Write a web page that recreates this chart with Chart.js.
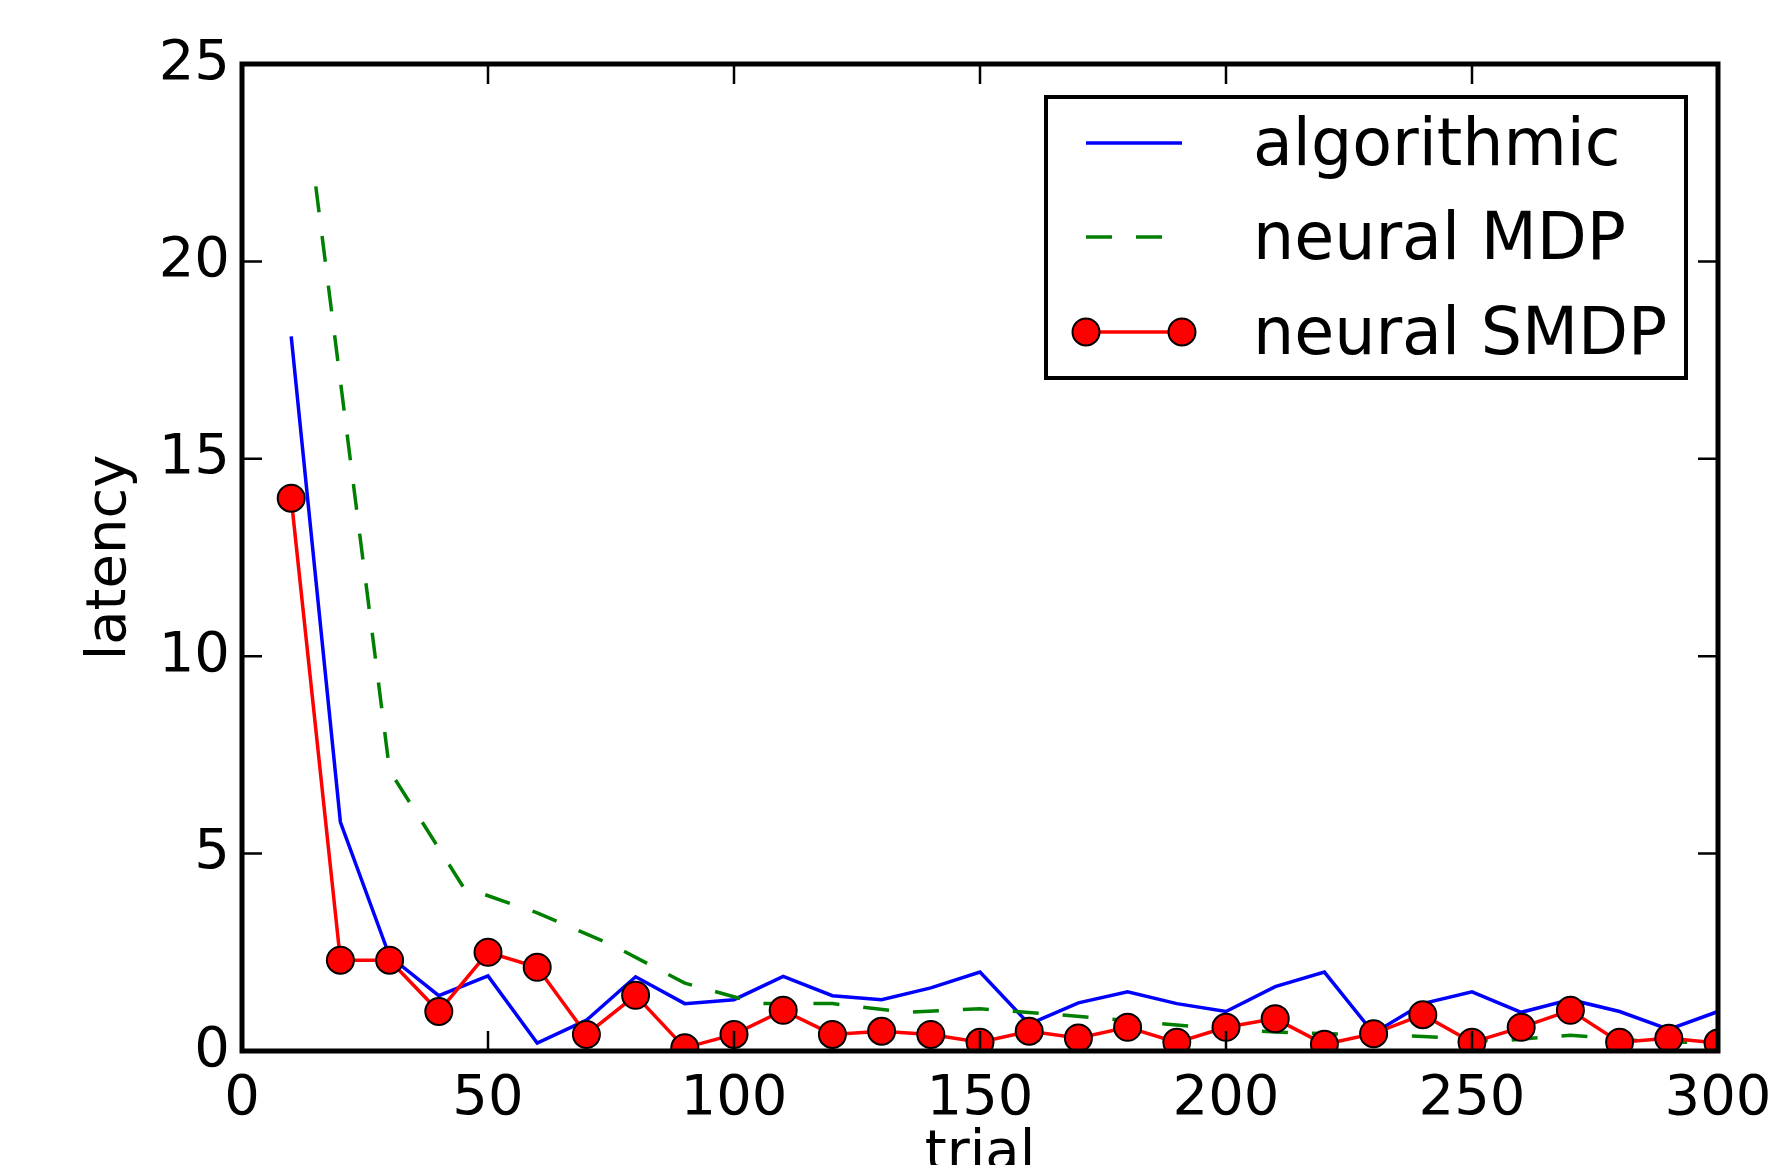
<!DOCTYPE html>
<html lang="en">
<head>
    <meta charset="UTF-8">
    <title>Latency per trial</title>
    <script src="https://cdn.jsdelivr.net/npm/chart.js"></script>
    <style>
        html, body { margin: 0; padding: 0; background: #fff; }
        #wrap { width: 1779px; height: 1165px; }
    </style>
</head>
<body>
    <div id="wrap">
        <canvas id="latencyChart" width="1779" height="1165"></canvas>
    </div>

    <script>
        // trials where algorithmic and neural SMDP were measured
        var trials = [10, 20, 30, 40, 50, 60, 70, 80, 90, 100,
                      110, 120, 130, 140, 150, 160, 170, 180, 190, 200,
                      210, 220, 230, 240, 250, 260, 270, 280, 290, 300];
        var latencyAlgorithmic = [18.1, 5.8, 2.4, 1.4, 1.9, 0.2, 0.78, 1.88, 1.2, 1.3,
                                  1.89, 1.4, 1.3, 1.6, 2.0, 0.68, 1.22, 1.5, 1.2, 1.0,
                                  1.63, 2.0, 0.45, 1.2, 1.5, 0.98, 1.3, 1.0, 0.55, 1.0];
        var latencySMDP = [14.0, 2.3, 2.3, 1.0, 2.5, 2.12, 0.42, 1.41, 0.08, 0.42,
                           1.03, 0.42, 0.5, 0.42, 0.22, 0.5, 0.33, 0.6, 0.22, 0.6,
                           0.82, 0.17, 0.44, 0.92, 0.22, 0.6, 1.03, 0.22, 0.32, 0.2];

        // neural MDP was sampled every 15 trials
        var trialsMDP = [15, 30, 45, 60, 75, 90, 105, 120, 135, 150,
                         165, 180, 195, 210, 225, 240, 255, 270, 285, 300];
        var latencyMDP = [21.9, 7.1, 4.15, 3.5, 2.7, 1.72, 1.2, 1.2, 0.98, 1.07,
                          0.93, 0.77, 0.6, 0.48, 0.42, 0.37, 0.25, 0.4, 0.25, 0.2];

        var xTicks = [0, 50, 100, 150, 200, 250, 300];
        var yTicks = [0, 5, 10, 15, 20, 25];

        function toPoints(xs, ys) {
            return xs.map(function (x, i) { return { x: x, y: ys[i] }; });
        }

        // matplotlib style frame with inward ticks on all four sides
        var framePlugin = {
            id: 'frame',
            afterDraw: function (chart) {
                var ctx = chart.ctx, a = chart.chartArea;
                var xs = chart.scales.x, ys = chart.scales.y;
                ctx.save();
                ctx.strokeStyle = '#000';
                ctx.lineWidth = 2.5;
                ctx.beginPath();
                xs.ticks.forEach(function (t) {
                    var px = xs.getPixelForValue(t.value);
                    ctx.moveTo(px, a.bottom); ctx.lineTo(px, a.bottom - 20);
                    ctx.moveTo(px, a.top); ctx.lineTo(px, a.top + 20);
                });
                ys.ticks.forEach(function (t) {
                    var py = ys.getPixelForValue(t.value);
                    ctx.moveTo(a.left, py); ctx.lineTo(a.left + 20, py);
                    ctx.moveTo(a.right, py); ctx.lineTo(a.right - 20, py);
                });
                ctx.stroke();
                ctx.lineWidth = 5;
                ctx.strokeRect(a.left, a.top, a.right - a.left, a.bottom - a.top);
                ctx.restore();
            }
        };

        // boxed legend in the upper right, samples taken from the datasets
        var legendPlugin = {
            id: 'boxLegend',
            afterDraw: function (chart) {
                var ctx = chart.ctx, a = chart.chartArea;
                var left = a.right - 672, right = a.right - 32;
                var top = a.top + 33, bottom = a.top + 314;
                ctx.save();
                ctx.fillStyle = '#fff';
                ctx.fillRect(left, top, right - left, bottom - top);
                ctx.strokeStyle = '#000';
                ctx.lineWidth = 4;
                ctx.strokeRect(left, top, right - left, bottom - top);

                var rowY = [top + 46, top + 140, top + 235];
                var x1 = left + 40, x2 = left + 136;
                chart.data.datasets.forEach(function (ds, i) {
                    var y = rowY[i];
                    ctx.strokeStyle = ds.borderColor;
                    ctx.lineWidth = ds.borderWidth;
                    ctx.setLineDash(ds.borderDash || []);
                    ctx.beginPath();
                    ctx.moveTo(x1, y); ctx.lineTo(x2, y);
                    ctx.stroke();
                    ctx.setLineDash([]);
                    if (ds.pointRadius > 0) {
                        [x1, x2].forEach(function (px) {
                            ctx.beginPath();
                            ctx.arc(px, y, ds.pointRadius, 0, Math.PI * 2);
                            ctx.fillStyle = ds.pointBackgroundColor;
                            ctx.fill();
                            ctx.lineWidth = ds.pointBorderWidth;
                            ctx.strokeStyle = ds.pointBorderColor;
                            ctx.stroke();
                        });
                    }
                    ctx.fillStyle = '#000';
                    ctx.font = '65px "DejaVu Sans"';
                    ctx.textBaseline = 'alphabetic';
                    ctx.fillText(ds.label, left + 207, y + 22);
                });
                ctx.restore();
            }
        };

        Chart.defaults.font.family = '"DejaVu Sans", sans-serif';
        Chart.defaults.color = '#000';

        var ctx = document.getElementById('latencyChart').getContext('2d');
        new Chart(ctx, {
            type: 'line',
            data: {
                datasets: [{
                    label: 'algorithmic',
                    data: toPoints(trials, latencyAlgorithmic),
                    borderColor: '#0000ff',
                    borderWidth: 3.5,
                    pointRadius: 0,
                    tension: 0,
                    fill: false,
                    clip: 0,
                    order: 2
                }, {
                    label: 'neural MDP',
                    data: toPoints(trialsMDP, latencyMDP),
                    borderColor: '#008000',
                    borderWidth: 3.5,
                    borderDash: [26, 24],
                    pointRadius: 0,
                    tension: 0,
                    fill: false,
                    clip: 0,
                    order: 1
                }, {
                    label: 'neural SMDP',
                    data: toPoints(trials, latencySMDP),
                    borderColor: '#ff0000',
                    borderWidth: 3.5,
                    pointRadius: 13.5,
                    pointBackgroundColor: '#ff0000',
                    pointBorderColor: '#000',
                    pointBorderWidth: 2,
                    tension: 0,
                    fill: false,
                    clip: 0,
                    order: 0
                }]
            },
            options: {
                responsive: false,
                animation: false,
                devicePixelRatio: 1,
                layout: { padding: { left: 0, right: 61, top: 64, bottom: 0 } },
                plugins: {
                    legend: { display: false },
                    tooltip: { enabled: false }
                },
                scales: {
                    x: {
                        type: 'linear',
                        min: 0,
                        max: 300,
                        grid: { display: false, drawTicks: false },
                        border: { display: false },
                        afterBuildTicks: function (scale) {
                            scale.ticks = xTicks.map(function (v) { return { value: v }; });
                        },
                        ticks: { autoSkip: false, maxRotation: 0, padding: 15, font: { size: 56 } },
                        title: { display: true, text: 'trial', font: { size: 56 }, padding: { top: 0, bottom: -23 } },
                        afterFit: function (scale) {
                            scale.height = 114;
                            scale.paddingLeft = 0;
                            scale.paddingRight = 0;
                        }
                    },
                    y: {
                        min: 0,
                        max: 25,
                        grid: { display: false, drawTicks: false },
                        border: { display: false },
                        afterBuildTicks: function (scale) {
                            scale.ticks = yTicks.map(function (v) { return { value: v }; });
                        },
                        ticks: { padding: 12, font: { size: 56 } },
                        title: { display: true, text: 'latency', font: { size: 56 }, padding: { top: 77, bottom: 0 } },
                        afterFit: function (scale) {
                            scale.width = 242;
                            scale.paddingTop = 0;
                            scale.paddingBottom = 0;
                        }
                    }
                }
            },
            plugins: [framePlugin, legendPlugin]
        });
    </script>
</body>
</html>
